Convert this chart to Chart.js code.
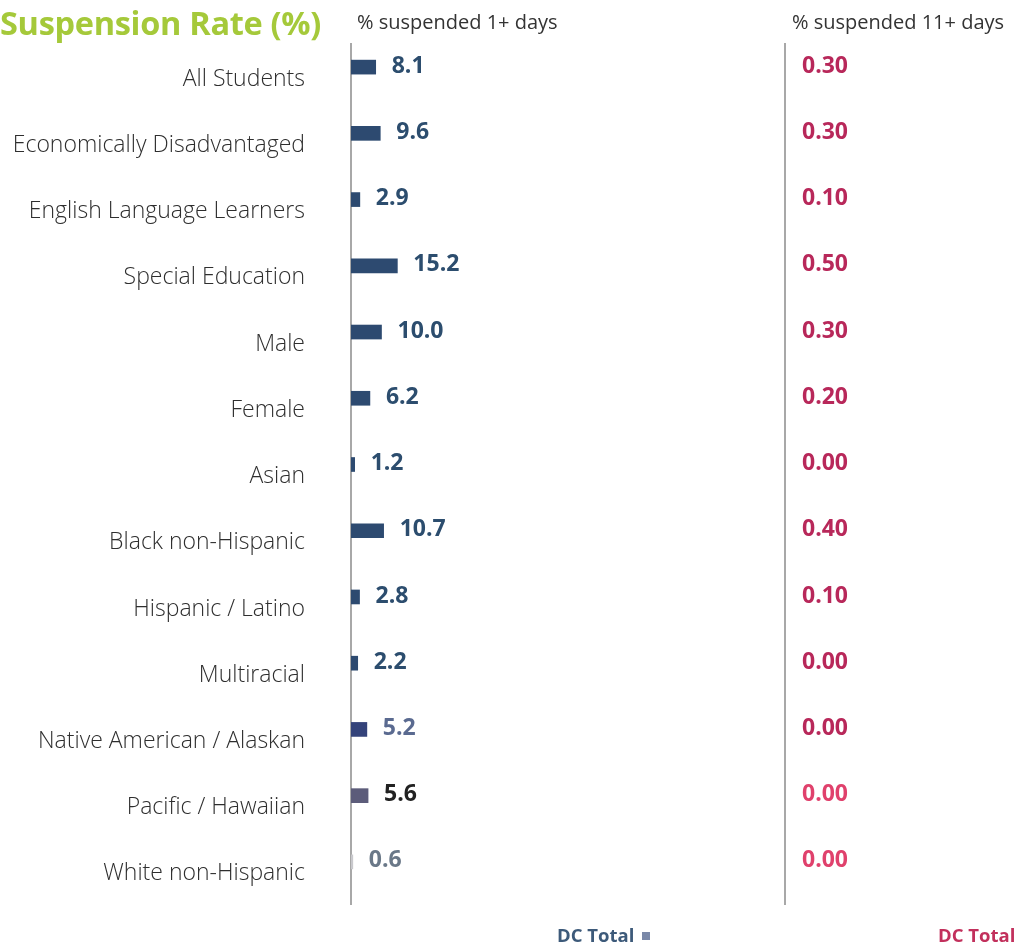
<!DOCTYPE html>
<html>
<head>
<meta charset="utf-8">
<script src="https://cdn.jsdelivr.net/npm/chart.js@4.4.0/dist/chart.umd.min.js"></script>
<style>
  html, body { margin: 0; padding: 0; background: #fff; }
  #wrap { position: relative; width: 1022px; height: 945px; overflow: hidden; font-family: "Open Sans", sans-serif; }
  #wrap canvas { position: absolute; left: 0; top: 0; }
  .txt { position: absolute; white-space: nowrap; }
  #title { left: 0; top: 0px; font-size: 32.5px; font-weight: 700; color: #a5c93a; letter-spacing: -0.3px; }
  .head { top: 8px; font-size: 20px; color: #333; }
  .foot { top: 922px; font-size: 18.5px; font-weight: 700; }
  .sq { display: inline-block; width: 8px; height: 8px; background: #7a88a8; margin-left: 8px; vertical-align: 2px; }
</style>
</head>
<body>
<div id="wrap">
  <canvas id="chart" width="1022" height="945"></canvas>
  <div id="title" class="txt">Suspension Rate (%)</div>
  <div class="txt head" style="left:357px">% suspended 1+ days</div>
  <div class="txt head" style="left:792px">% suspended 11+ days</div>
  <div class="txt foot" style="left:557px;color:#3d5a7a">DC Total<span class="sq"></span></div>
  <div class="txt foot" style="left:938px;color:#c2305c">DC Total</div>
</div>
<script>
// Suspension Rate (%) - grupos de estudiantes
const categories = [
  'All Students', 'Economically Disadvantaged', 'English Language Learners',
  'Special Education', 'Male', 'Female', 'Asian', 'Black non-Hispanic',
  'Hispanic / Latino', 'Multiracial', 'Native American / Alaskan',
  'Pacific / Hawaiian', 'White non-Hispanic'
];
const suspended1Plus = [8.1, 9.6, 2.9, 15.2, 10.0, 6.2, 1.2, 10.7, 2.8, 2.2, 5.2, 5.6, 0.6];
const suspended11Plus = [0.30, 0.30, 0.10, 0.50, 0.30, 0.20, 0.00, 0.40, 0.10, 0.00, 0.00, 0.00, 0.00];

// colores por fila
const barColors = ['#2d4a70', '#2d4a70', '#2d4a70', '#2d4a70', '#2d4a70', '#2d4a70', '#2d4a70',
  '#2d4a70', '#2d4a70', '#2d4a70', '#34437a', '#5c5c7a', '#c8c8cc'];
const valueColors = ['#2c4d6e', '#2c4d6e', '#2c4d6e', '#2c4d6e', '#2c4d6e', '#2c4d6e', '#2c4d6e',
  '#2c4d6e', '#2c4d6e', '#2c4d6e', '#5a6a90', '#222222', '#6a7888'];
const rightColors = ['#b8285a', '#b8285a', '#b8285a', '#b8285a', '#b8285a', '#b8285a', '#b8285a',
  '#b8285a', '#b8285a', '#b8285a', '#b8285a', '#e0416c', '#e0416c'];

const RIGHT_COL_X = 785;

// dibuja lineas verticales y etiquetas de valores
const labelsPlugin = {
  id: 'labelsPlugin',
  beforeDatasetsDraw(chart) {
    const ctx = chart.ctx;
    const area = chart.chartArea;
    ctx.save();
    ctx.strokeStyle = '#a8a8a8';
    ctx.lineWidth = 2;
    [area.left, RIGHT_COL_X].forEach(x => {
      ctx.beginPath();
      ctx.moveTo(x, 43);
      ctx.lineTo(x, 905);
      ctx.stroke();
    });
    ctx.restore();
  },
  afterDatasetsDraw(chart) {
    const ctx = chart.ctx;
    const meta = chart.getDatasetMeta(0);
    ctx.save();
    ctx.font = 'bold 23px "Open Sans"';
    ctx.textBaseline = 'middle';
    ctx.textAlign = 'left';
    meta.data.forEach((bar, i) => {
      ctx.fillStyle = valueColors[i];
      ctx.fillText(suspended1Plus[i].toFixed(1), bar.x + 16, bar.y - 1);
      ctx.fillStyle = rightColors[i];
      ctx.fillText(suspended11Plus[i].toFixed(2), RIGHT_COL_X + 17, bar.y - 1);
    });
    ctx.restore();
  }
};

new Chart(document.getElementById('chart'), {
  type: 'bar',
  data: {
    labels: categories,
    datasets: [{
      label: '% suspended 1+ days',
      data: suspended1Plus,
      backgroundColor: barColors,
      barThickness: 14,
      borderWidth: 0
    }]
  },
  options: {
    indexAxis: 'y',
    responsive: false,
    animation: false,
    layout: { padding: { top: 34, bottom: 50, left: 0, right: 366 } },
    plugins: {
      legend: { display: false },
      tooltip: { enabled: false }
    },
    scales: {
      x: {
        display: false,
        min: 0,
        max: 100
      },
      y: {
        afterFit(scale) {
          scale.width = 351;
          // el padding de los ticks no debe recortar el area vertical
          scale.paddingTop = 0;
          scale.paddingBottom = 0;
        },
        grid: { display: false, drawTicks: false },
        border: { display: false },
        ticks: {
          padding: 46,
          labelOffset: 12,
          color: '#2e2e2e',
          font: { family: '"Open Sans"', size: 23, weight: 300 }
        }
      }
    }
  },
  plugins: [labelsPlugin]
});
</script>
</body>
</html>
